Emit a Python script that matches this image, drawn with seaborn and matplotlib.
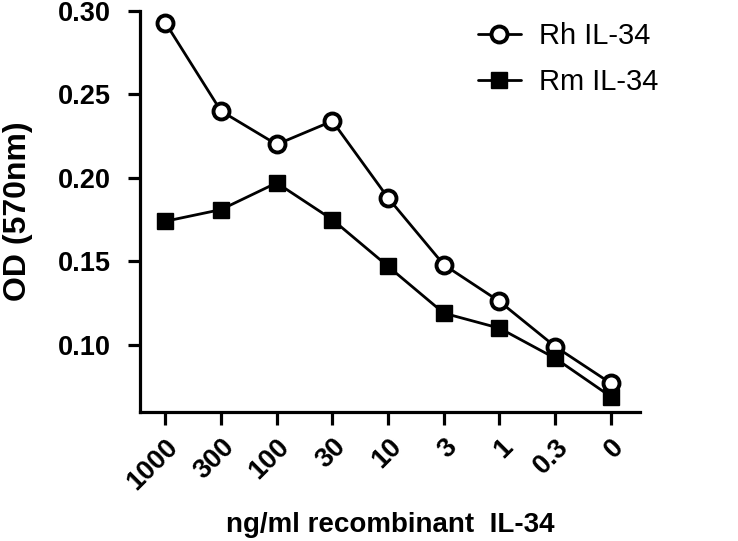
import pandas as pd
import seaborn as sns
import matplotlib.pyplot as plt

doses = ["1000", "300", "100", "30", "10", "3", "1", "0.3", "0"]
rh_od = [0.293, 0.240, 0.220, 0.234, 0.188, 0.148, 0.126, 0.099, 0.077]
rm_od = [0.174, 0.181, 0.197, 0.175, 0.147, 0.119, 0.110, 0.092, 0.069]

df = pd.DataFrame({
    "dose": doses * 2,
    "od": rh_od + rm_od,
    "series": ["Rh IL-34"] * len(doses) + ["Rm IL-34"] * len(doses),
})

sns.set_style("ticks", {"text.color": "black", "axes.labelcolor": "black",
                        "xtick.color": "black", "ytick.color": "black",
                        "axes.edgecolor": "black"})
plt.rcParams["font.family"] = ["Liberation Sans", "DejaVu Sans"]

fig = plt.figure(figsize=(7.38, 5.41), dpi=100)
ax = fig.add_axes([0.19, 0.239, 0.677, 0.741])

sns.lineplot(data=df, x="dose", y="od", hue="series", style="series",
             palette=["black", "black"], markers={"Rh IL-34": "o", "Rm IL-34": "s"},
             dashes=False, sort=False, linewidth=2.0, markersize=11.5,
             markeredgewidth=2.8, ax=ax)

# open circles for Rh
for line in ax.lines:
    if line.get_marker() == "o":
        line.set_markerfacecolor("white")
        line.set_markeredgecolor("black")
    else:
        line.set_markerfacecolor("black")
        line.set_markeredgecolor("black")
        line.set_markeredgewidth(1)

ax.set_ylim(0.06, 0.30)
ax.set_xlim(-0.45, 8.52)
ax.set_yticks([0.10, 0.15, 0.20, 0.25, 0.30])
ax.set_yticklabels(["0.10", "0.15", "0.20", "0.25", "0.30"])

for s in ["top", "right"]:
    ax.spines[s].set_visible(False)
for s in ["left", "bottom"]:
    ax.spines[s].set_linewidth(2.3)
ax.tick_params(width=2.3, length=9, labelsize=19.5)
ax.tick_params(axis="y", pad=12)
ax.tick_params(axis="x", pad=7)
for lab in ax.get_yticklabels():
    lab.set_fontweight("bold")
plt.setp(ax.get_xticklabels(), rotation=45, ha="right", rotation_mode="anchor",
         fontweight="bold")

ax.set_xlabel("ng/ml recombinant  IL-34", fontsize=20, fontweight="bold", labelpad=12)
ax.set_ylabel("OD (570nm)", fontsize=23, fontweight="bold", labelpad=18)

handles, labels = ax.get_legend_handles_labels()
for h in handles:
    if h.get_marker() == "o":
        h.set_markerfacecolor("white")
leg = ax.legend(handles, labels, loc="upper right", frameon=False, fontsize=21,
                handlelength=1.5, handletextpad=0.6, borderaxespad=0.0,
                bbox_to_anchor=(1.06, 1.0), labelspacing=0.6)

fig.savefig("out.png", dpi=100)
